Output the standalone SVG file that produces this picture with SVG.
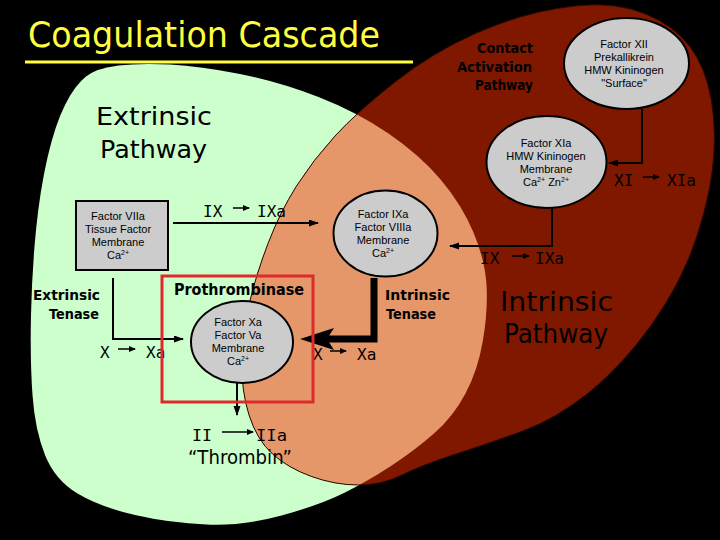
<svg xmlns="http://www.w3.org/2000/svg" width="720" height="540" viewBox="0 0 720 540">
<style>
.node{fill:#CCCCCC;stroke:#000;stroke-width:2}
.nt{font-family:"Liberation Sans",Arial,sans-serif;font-size:11px;text-anchor:middle;fill:#000}
.sup{font-size:7px}
.cm{font-family:"DejaVu Sans",sans-serif;fill:#000}
.cb{font-family:"DejaVu Sans",sans-serif;font-weight:bold;fill:#000}
.rx{font-family:"DejaVu Sans Mono",monospace;font-size:16px;fill:#000}
.con{fill:none;stroke:#000;stroke-width:2}
.rar{fill:none;stroke:#000;stroke-width:1.5}
</style>
<defs>
<marker id="ah" markerUnits="userSpaceOnUse" markerWidth="11" markerHeight="8" refX="9" refY="3.5" orient="auto"><path d="M0,0 L10,3.5 L0,7 Z" fill="#000"/></marker>
<marker id="sm" markerUnits="userSpaceOnUse" markerWidth="8" markerHeight="7" refX="6" refY="3" orient="auto"><path d="M0,0 L7,3 L0,6 Z" fill="#000"/></marker>
<marker id="big" markerUnits="userSpaceOnUse" markerWidth="36" markerHeight="24" refX="7" refY="11" orient="auto"><path d="M0,0 L34,11 L0,22 L7,11 Z" fill="#000"/></marker>
<path id="greenShape" d="M86,76.5 Q97,68 118.5,65.5 Q140,63 170,64.5 Q200,66 240,74 Q280,82 318.5,97 Q357,112 388.5,133.5 Q420,155 441,180 Q462,205 473.5,232.5 Q485,260 486.5,285 Q488,310 483,340 Q478,370 465.5,393.5 Q453,417 434,433.5 Q415,450 392.5,465 Q370,480 345,492.5 Q320,505 281.5,515.5 Q243,526 206.5,524.5 Q170,523 135,515 Q100,507 77.5,493.5 Q55,480 45,455 Q35,430 32.5,395 Q30,360 31,315 Q32,270 36,230 Q40,190 47.5,157.5 Q55,125 65,105 Q75,85 86,76.5 Z"/>
<path id="redShape" d="M560,8 Q600,1 631,9 Q662,18 681,36.5 Q700,55 708,85 Q716,115 714,152.5 Q712,190 697,236 Q682,282 652,324 Q622,366 589,392.5 Q556,419 521.5,431.5 Q487,444 454.5,454.5 Q422,465 402,475 Q382,485 358.5,485 Q335,485 311.5,476.5 Q288,468 272.5,454 Q257,440 249,415 Q241,390 242,360 Q243,330 249.5,302.5 Q256,275 268,243.5 Q280,212 296.5,186 Q313,160 335,136 Q357,112 395,82 Q433,52 476.5,33 Q520,14 560,8 Z"/>
<clipPath id="redClip"><use href="#redShape"/></clipPath>
</defs>
<rect x="0" y="0" width="720" height="540" fill="#000"/>
<g id="regions">
<use href="#greenShape" fill="#CCFFCC"/>
<use href="#redShape" fill="#801800"/>
<use href="#greenShape" fill="#E5976A" clip-path="url(#redClip)"/>
<use href="#redShape" fill="none" stroke="#2a0800" stroke-width="1"/>
</g>
<g id="title">
<text x="28" y="47" font-family="DejaVu Sans,sans-serif" font-size="36" fill="#FFFF40" textLength="352" lengthAdjust="spacingAndGlyphs">Coagulation Cascade</text>
<line x1="25" y1="62" x2="413" y2="62" stroke="#FFFF40" stroke-width="3"/>
</g>
<g id="labels">
<text class="cm" x="96" y="125" font-size="25" textLength="116" lengthAdjust="spacingAndGlyphs">Extrinsic</text>
<text class="cm" x="100" y="158" font-size="25" textLength="107" lengthAdjust="spacingAndGlyphs">Pathway</text>
<text class="cb" x="33" y="300" font-size="14" textLength="67" lengthAdjust="spacingAndGlyphs">Extrinsic</text>
<text class="cb" x="49" y="319" font-size="14" textLength="50" lengthAdjust="spacingAndGlyphs">Tenase</text>
<text class="cb" x="385" y="300" font-size="14" textLength="65" lengthAdjust="spacingAndGlyphs">Intrinsic</text>
<text class="cb" x="386" y="319" font-size="14" textLength="50" lengthAdjust="spacingAndGlyphs">Tenase</text>
<text class="cm" x="500" y="311" font-size="26" textLength="113" lengthAdjust="spacingAndGlyphs">Intrinsic</text>
<text class="cm" x="504" y="343" font-size="26" textLength="104" lengthAdjust="spacingAndGlyphs">Pathway</text>
<text class="cb" x="477" y="53" font-size="14" fill="#1a0000" textLength="56" lengthAdjust="spacingAndGlyphs">Contact</text>
<text class="cb" x="457" y="72" font-size="14" fill="#1a0000" textLength="75" lengthAdjust="spacingAndGlyphs">Activation</text>
<text class="cb" x="475" y="90" font-size="14" fill="#1a0000" textLength="58" lengthAdjust="spacingAndGlyphs">Pathway</text>
<text class="cb" x="174" y="295" font-size="16" fill="#D42A2A" textLength="130" lengthAdjust="spacingAndGlyphs">Prothrombinase</text>
<text class="cm" x="188" y="464" font-size="19" textLength="104" lengthAdjust="spacingAndGlyphs">“Thrombin”</text>
</g>
<g id="reactions">
<text class="rx" x="203" y="217">IX</text><path class="rar" d="M233,208 H249" marker-end="url(#sm)"/><text class="rx" x="257" y="217">IXa</text>
<text class="rx" x="100" y="358">X</text><path class="rar" d="M118,349 H135" marker-end="url(#sm)"/><text class="rx" x="146" y="358">Xa</text>
<text class="rx" x="313" y="360">X</text><path class="rar" d="M330,351 H346" marker-end="url(#sm)"/><text class="rx" x="357" y="360">Xa</text>
<text class="rx" x="480" y="264">IX</text><path class="rar" d="M512,256 H529" marker-end="url(#sm)"/><text class="rx" x="535" y="264">IXa</text>
<text class="rx" x="614" y="186">XI</text><path class="rar" d="M643,177 H659" marker-end="url(#sm)"/><text class="rx" x="667" y="186">XIa</text>
<text class="rx" x="192" y="441" font-size="18" textLength="20" lengthAdjust="spacingAndGlyphs">II</text><path class="rar" d="M222,432 H253" marker-end="url(#sm)"/><text class="rx" x="256" y="441" font-size="18" textLength="31" lengthAdjust="spacingAndGlyphs">IIa</text>
</g>
<g id="connectors">
<path class="con" d="M173,223 H318" marker-end="url(#ah)"/>
<path class="con" d="M113,278 V339 H183" marker-end="url(#ah)"/>
<path class="con" d="M237,383 V415" marker-end="url(#ah)"/>
<path d="M374,278 V339 H327" fill="none" stroke="#000" stroke-width="7" marker-end="url(#big)"/>
<path class="con" d="M552,208 V246 H450" marker-end="url(#ah)"/>
<path class="con" d="M642,109 V163 H609" marker-end="url(#ah)"/>
</g>
<g id="node-tf">
<rect class="node" x="76" y="201" width="92" height="69"/>
<text class="nt" x="118" y="220">Factor VIIa</text>
<text class="nt" x="118" y="233">Tissue Factor</text>
<text class="nt" x="118" y="246">Membrane</text>
<text class="nt" x="118" y="259">Ca<tspan class="sup" dy="-4">2+</tspan></text>
</g>
<g id="node-xa">
<ellipse class="node" cx="242" cy="342" rx="51" ry="41"/>
<text class="nt" x="238" y="326">Factor Xa</text>
<text class="nt" x="238" y="339">Factor Va</text>
<text class="nt" x="238" y="352">Membrane</text>
<text class="nt" x="238" y="365">Ca<tspan class="sup" dy="-4">2+</tspan></text>
</g>
<g id="prothrombinase-box">
<rect x="162" y="276" width="151" height="126" fill="none" stroke="#DD2A2A" stroke-width="3"/>
</g>
<g id="node-ixa">
<ellipse class="node" cx="385.5" cy="233.5" rx="52" ry="43"/>
<text class="nt" x="383" y="218">Factor IXa</text>
<text class="nt" x="383" y="231">Factor VIIIa</text>
<text class="nt" x="383" y="244">Membrane</text>
<text class="nt" x="383" y="257">Ca<tspan class="sup" dy="-4">2+</tspan></text>
</g>
<g id="node-xia">
<ellipse class="node" cx="546.5" cy="162" rx="60" ry="46"/>
<text class="nt" x="546" y="147">Factor XIa</text>
<text class="nt" x="546" y="160">HMW Kininogen</text>
<text class="nt" x="546" y="173">Membrane</text>
<text class="nt" x="546" y="186">Ca<tspan class="sup" dy="-4">2+</tspan><tspan dy="4">  Zn</tspan><tspan class="sup" dy="-4">2+</tspan></text>
</g>
<g id="node-xii">
<ellipse class="node" cx="626.5" cy="63.5" rx="62.5" ry="45.5"/>
<text class="nt" x="624" y="48">Factor XII</text>
<text class="nt" x="624" y="61">Prekallikrein</text>
<text class="nt" x="624" y="74">HMW Kininogen</text>
<text class="nt" x="624" y="87">"Surface"</text>
</g>
</svg>
